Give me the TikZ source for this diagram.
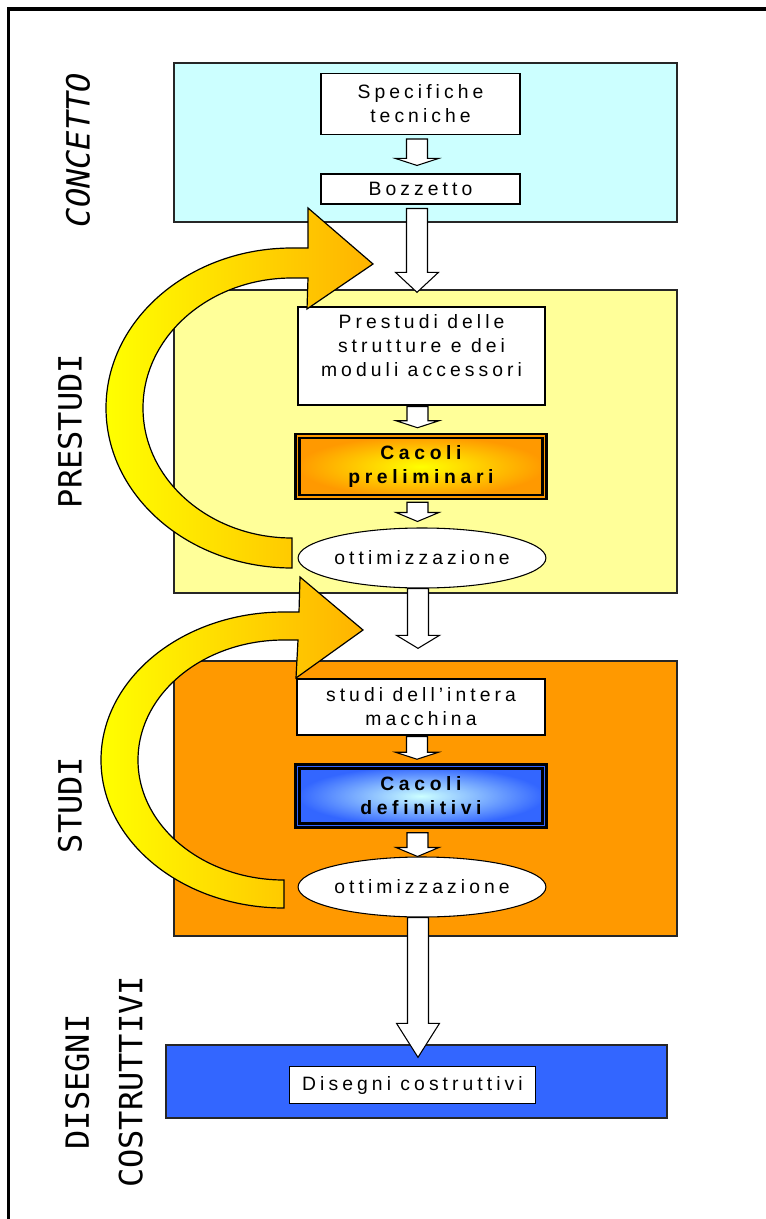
\documentclass[tikz,border=0pt]{standalone}
\usepackage{fontspec}
\usepackage{tikz}
\usetikzlibrary{calc,shapes.geometric}
\setmainfont{Liberation Sans}
\newfontfamily\boxfont[LetterSpace=21]{Liberation Sans}
\newfontfamily\calcfont[LetterSpace=24]{Liberation Sans}
\newfontfamily\stagefont{DejaVu Sans Mono}
\definecolor{ConceptCyan}{HTML}{CCFFFF}
\definecolor{PreYellow}{HTML}{FFFF99}
\definecolor{StudyOrange}{HTML}{FF9900}
\definecolor{DrawBlue}{HTML}{3366FF}
\definecolor{CalcYellow}{HTML}{FFFF00}
\definecolor{LoopYellow}{HTML}{FFFF00}
\definecolor{LoopOrange}{HTML}{FFB300}

% hollow block arrow: start, tip level, head length
\newcommand{\flowarrow}[3]{%
  \path (#1) coordinate (fa) (#2) coordinate (fb);
  \draw[hollow] ($(fa)+(-10.5,0)$) -- ($(fa|-fb)+(-10.5,-#3)$)
    -- ($(fa|-fb)+(-21.5,-#3)$) -- (fa|-fb) -- ($(fa|-fb)+(21.5,-#3)$)
    -- ($(fa|-fb)+(10.5,-#3)$) -- ($(fa)+(10.5,0)$) -- cycle;}

\begin{document}
\begin{tikzpicture}[x=0.75pt, y=-0.75pt,
    stage/.style={draw=black!85, line width=1pt, inner sep=0pt,
      minimum width=377.25pt},
    task/.style={draw=black, fill=white, line width=0.8pt, inner sep=0pt,
      align=center, font=\boxfont\fontsize{14.5}{18}\selectfont},
    calcbox/.style={draw=black, line width=1.9pt, double distance=1.3pt,
      inner sep=0pt, minimum width=185.25pt, align=center,
      shading=radial, font=\calcfont\bfseries\fontsize{14.5}{18}\selectfont},
    optim/.style={ellipse, draw=black, fill=white, line width=0.8pt,
      inner sep=0pt, minimum width=174pt, minimum height=45pt,
      font=\boxfont\fontsize{14.5}{18}\selectfont},
    stagelabel/.style={rotate=90, inner sep=0pt, align=center,
      font=\stagefont\fontsize{24}{40}\selectfont},
    hollow/.style={draw=black, fill=white, line width=0.8pt, line join=miter},
    feedback/.style={draw=black, line width=0.9pt,
      left color=LoopYellow, right color=LoopOrange}]
  \useasboundingbox (0,0) rectangle (766,1219);

  % phases
  \node[stage, fill=ConceptCyan, minimum height=119.25pt] (concetto) at (425.5,142.5) {};
  \node[stage, fill=PreYellow, minimum height=227.25pt] (prestudi) at (425.5,441.5) {};
  \node[stage, fill=StudyOrange, minimum height=206.25pt] (studi) at (425.5,798.5) {};
  \node[stage, fill=DrawBlue, minimum width=375.75pt, minimum height=54.75pt] (disegni) at (416.5,1081.5) {};

  \node[stagelabel, font=\stagefont\itshape\fontsize{24}{40}\selectfont] (lconcetto) at (78,150) {CONCETTO};
  \node[stagelabel] (lprestudi) at (70,431) {PRESTUDI};
  \node[stagelabel] (lstudi) at (70,805) {STUDI};
  \node[stagelabel] (ldisegni) at (104,1082) {DISEGNI\\COSTRUTTIVI};

  % steps
  \node[task, minimum width=149.25pt, minimum height=45.75pt] (spec) at (420.5,104) {Specifiche\\tecniche};
  \node[task, minimum width=149.25pt, minimum height=22.5pt] (bozz) at (420.5,189) {Bozzetto};
  \node[task, minimum width=185.25pt, minimum height=73.5pt] (moduli) at (421.5,356)
    {Prestudi delle\\strutture e dei\\moduli accessori\\[-2pt]\mbox{}};
  \node[calcbox, minimum height=45.75pt, inner color=CalcYellow, outer color=StudyOrange,
    double=StudyOrange] (prelim) at (421,466.5) {Cacoli\\preliminari};
  \node[optim] (ott1) at (422,558) {ottimizzazione};
  \node[task, minimum width=186pt, minimum height=42pt] (macchina) at (421,707) {studi dell’intera\\macchina};
  \node[calcbox, minimum height=44.25pt, inner color=ConceptCyan, outer color=DrawBlue,
    double=DrawBlue] (defin) at (421,796) {Cacoli\\definitivi};
  \node[optim] (ott2) at (422,887) {ottimizzazione};
  \node[task, minimum width=184.5pt, minimum height=27.75pt] (tavole) at (412.5,1085) {Disegni costruttivi};

  % flow
  \flowarrow{$(spec.south)+(-3.5,4)$}{$(bozz.north)+(0,-8)$}{7}
  \flowarrow{$(bozz.south)+(-3.5,4)$}{$(prestudi.north)+(0,3)$}{20}
  \flowarrow{$(moduli.south)+(-4,1)$}{$(prelim.north)+(0,-7)$}{7}
  \flowarrow{$(prelim.south)+(-3.5,4)$}{$(ott1.north)+(0,-6)$}{9}
  \flowarrow{$(ott1.south)+(-4,0)$}{$(studi.north)+(0,-12)$}{13}
  \flowarrow{$(macchina.south)+(-4,1)$}{$(defin.north)+(0,-6)$}{7}
  \flowarrow{$(defin.south)+(-3.5,6)$}{$(ott2.north)$}{9}
  \flowarrow{$(ott2.south)+(-4,0)$}{$(disegni.north)+(0,13)$}{34}

  % feedback loops
  \shadedraw[feedback] (292,568)
    arc[start angle=90, end angle=270, x radius=186, y radius=160]
    -- (308,248) -- (308,208) -- (373,264) -- (307,309) -- (308,278) -- (292,278)
    arc[start angle=270, end angle=90, x radius=149, y radius=130]
    -- cycle;
  \shadedraw[feedback] (284,908)
    arc[start angle=90, end angle=270, x radius=183, y radius=148]
    -- (299,612) -- (300,577) -- (363,630) -- (296,678) -- (298,640) -- (284,640)
    arc[start angle=270, end angle=90, x radius=146, y radius=120]
    -- cycle;

  % frame
  \draw[line width=2.3pt, line join=miter] (8.5,1230) -- (8.5,9) -- (780,9);
\end{tikzpicture}
\end{document}
